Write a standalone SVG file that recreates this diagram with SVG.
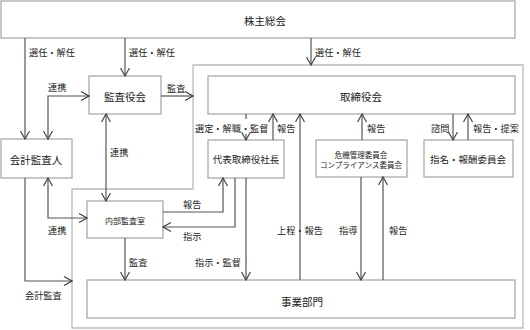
<svg xmlns="http://www.w3.org/2000/svg" width="530" height="330" viewBox="0 0 530 330">
<defs>
<marker id="ah" viewBox="0 0 10 10" refX="9" refY="5" markerWidth="10" markerHeight="10" markerUnits="userSpaceOnUse" orient="auto-start-reverse">
<path d="M1,0.5 L9,5 L1,9.5" fill="none" stroke="#444" stroke-width="1.2"/>
</marker>
<style>
.box{fill:#fff;stroke:#aaa;stroke-width:1.3}
.cont{fill:none;stroke:#bbb;stroke-width:1.3}
.ln{fill:none;stroke:#555;stroke-width:1.2}
.a{marker-end:url(#ah)}
.b{marker-start:url(#ah);marker-end:url(#ah)}
text{font-family:"Noto Sans CJK JP","Noto Sans",sans-serif;fill:#222}
.t{font-size:10.5px;text-anchor:middle;dominant-baseline:central}
.m{font-size:9.5px;text-anchor:middle;dominant-baseline:central}
.s{font-size:7.5px;text-anchor:middle;dominant-baseline:central}
.i{font-size:8px;text-anchor:middle;dominant-baseline:central}
.l{font-size:9.2px;dominant-baseline:central}
</style>
</defs>
<rect width="530" height="330" fill="#fff"/>
<polygon class="cont" points="193,65 523,65 523,328 72,328 72,189 193,189"/>
<g id="n-soukai"><rect class="box" x="1" y="1" width="514" height="37"/><text class="t" x="265" y="20">株主総会</text></g>
<g id="n-kansayakukai"><rect class="box" x="89" y="76" width="72" height="38"/><text class="t" x="125" y="96">監査役会</text></g>
<g id="n-torishimariyakukai"><rect class="box" x="208" y="76" width="307" height="38"/><text class="t" x="361" y="96">取締役会</text></g>
<g id="n-kaikei"><rect class="box" x="1" y="139" width="71" height="39"/><text class="t" x="36" y="159">会計監査人</text></g>
<g id="n-daihyo"><rect class="box" x="208" y="140" width="76" height="38"/><text class="m" x="246" y="159">代表取締役社長</text></g>
<g id="n-kiki"><rect class="box" x="316" y="140" width="91" height="37"/><text class="s" x="361" y="154">危機管理委員会</text><text class="s" x="361" y="164">コンプライアンス委員会</text></g>
<g id="n-shimei"><rect class="box" x="424" y="140" width="89" height="37"/><text class="m" x="468" y="159">指名・報酬委員会</text></g>
<g id="n-naibu"><rect class="box" x="87" y="201" width="76" height="37"/><text class="i" x="125" y="220">内部監査室</text></g>
<g id="n-jigyo"><rect class="box" x="87" y="280" width="428" height="38"/><text class="t" x="302" y="301">事業部門</text></g>
<g id="connectors">
<path class="ln a" d="M25,38 V139"/>
<path class="ln a" d="M125,38 V76"/>
<path class="ln a" d="M311,38 V65"/>
<path class="ln a" d="M161,96 H193"/>
<path class="ln b" d="M89,96 H48 V139"/>
<path class="ln b" d="M48,178 V218 H87"/>
<path class="ln b" d="M106,114 V201"/>
<path class="ln" d="M246,114 V119"/>
<path class="ln a" d="M246,134 V140"/>
<path class="ln a" d="M273,140 V114"/>
<path class="ln a" d="M300,280 V114"/>
<path class="ln a" d="M362,140 V114"/>
<path class="ln a" d="M453,114 V140"/>
<path class="ln a" d="M468,140 V114"/>
<path class="ln a" d="M361,177 V280"/>
<path class="ln a" d="M383,280 V177"/>
<path class="ln a" d="M125,238 V280"/>
<path class="ln a" d="M163,212 H223 V178"/>
<path class="ln a" d="M235,178 V227 H163"/>
<path class="ln a" d="M246,178 V280"/>
<path class="ln a" d="M25,178 V281 H72"/>
</g>
<g id="labels">
<text class="l" x="29" y="52">選任・解任</text>
<text class="l" x="129" y="52">選任・解任</text>
<text class="l" x="315" y="52">選任・解任</text>
<text class="l" x="48" y="87">連携</text>
<text class="l" x="167" y="88">監査</text>
<text class="l" x="110" y="152">連携</text>
<text class="l" x="195" y="128">選定・解職・監督</text>
<text class="l" x="277" y="128">報告</text>
<text class="l" x="367" y="128">報告</text>
<text class="l" x="431" y="128">諮問</text>
<text class="l" x="473" y="128">報告・提案</text>
<text class="l" x="48" y="230">連携</text>
<text class="l" x="183" y="204">報告</text>
<text class="l" x="183" y="236">指示</text>
<text class="l" x="129" y="262">監査</text>
<text class="l" x="195" y="262">指示・監督</text>
<text class="l" x="277" y="230">上程・報告</text>
<text class="l" x="339" y="230">指導</text>
<text class="l" x="389" y="230">報告</text>
<text class="l" x="25" y="295">会計監査</text>
</g>
</svg>
